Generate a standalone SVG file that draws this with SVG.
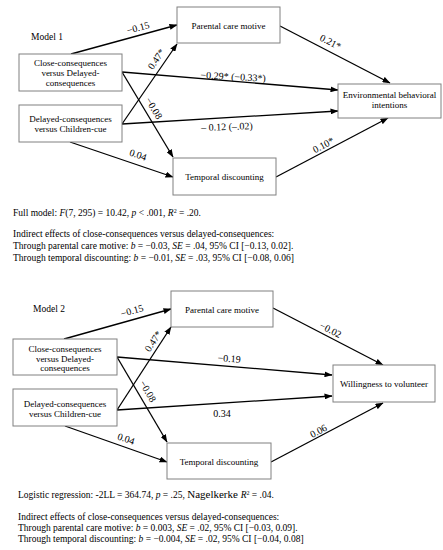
<svg xmlns="http://www.w3.org/2000/svg" width="443" height="550" viewBox="0 0 443 550" font-family="'Liberation Serif','Times New Roman',serif">
<defs>
<marker id="ah" markerWidth="8" markerHeight="6" refX="7.5" refY="3" orient="auto" markerUnits="userSpaceOnUse">
<path d="M0,0 L8,3 L0,6 z" fill="#000"/>
</marker>
<style>
.box{fill:#fff;stroke:#808080;stroke-width:1}
.t{font-family:"Liberation Serif","Times New Roman",serif;font-size:9px;fill:#000}
.n{font-family:"Liberation Serif","Times New Roman",serif;font-size:9.5px;fill:#000}
.c{text-anchor:middle}
.lb{font-family:"Liberation Serif","Times New Roman",serif;font-size:10px;fill:#000;text-anchor:middle}
.ln{stroke:#000;stroke-width:1.3;fill:none;marker-end:url(#ah)}
</style>
</defs>
<rect width="443" height="550" fill="#fff"/>

<!-- Model 1 -->
<text class="n" x="31" y="40">Model 1</text>
<g id="connectors1">
<line class="ln" x1="71" y1="54" x2="177" y2="25"/>
<line class="ln" x1="122" y1="72" x2="173" y2="157"/>
<line class="ln" x1="122" y1="72" x2="338" y2="90"/>
<line class="ln" x1="122" y1="124" x2="177" y2="44"/>
<line class="ln" x1="122" y1="124" x2="338" y2="111"/>
<line class="ln" x1="70" y1="142" x2="173" y2="177"/>
<line class="ln" x1="280" y1="26" x2="390" y2="83"/>
<line class="ln" x1="276" y1="177" x2="388" y2="118"/>
<text class="lb" transform="translate(139,31) rotate(-15)">−0.15</text>
<text class="lb" transform="translate(159,61) rotate(-55.5)">0.47*</text>
<text class="lb" transform="translate(151,110) rotate(59)">−0.08</text>
<text class="lb" transform="translate(233,80) rotate(3)">−0.29* (−0.33*)</text>
<text class="lb" transform="translate(227,130) rotate(-2)">– 0.12 (–.02)</text>
<text class="lb" transform="translate(137,158) rotate(19)">0.04</text>
<text class="lb" transform="translate(329,45) rotate(27)">0.21*</text>
<text class="lb" transform="translate(325,148) rotate(-28)">0.10*</text>
</g>
<g id="close1"><rect class="box" x="19" y="54" width="103" height="37"/>
<text class="t c" x="70.5" y="66">Close-consequences</text>
<text class="t c" x="70.5" y="76">versus Delayed-</text>
<text class="t c" x="70.5" y="86">consequences</text></g>
<g id="delayed1"><rect class="box" x="19" y="105" width="103" height="37"/>
<text class="t c" x="70.5" y="122">Delayed-consequences</text>
<text class="t c" x="70.5" y="132">versus Children-cue</text></g>
<g id="parental1"><rect class="box" x="177" y="7" width="103" height="36"/>
<text class="t c" x="228.5" y="29">Parental care motive</text></g>
<g id="env1"><rect class="box" x="338" y="84" width="103" height="34"/>
<text class="t c" x="389.5" y="98">Environmental behavioral</text>
<text class="t c" x="389.5" y="108">intentions</text></g>
<g id="temporal1"><rect class="box" x="173" y="158" width="103" height="37"/>
<text class="t c" x="224.5" y="180">Temporal discounting</text></g>

<text class="n" x="13" y="216">Full model: <tspan font-style="italic">F</tspan>(7, 295) = 10.42, <tspan font-style="italic">p</tspan> &lt; .001, <tspan font-style="italic">R</tspan><tspan font-size="6" dy="-3">2</tspan><tspan dy="3"> = .20.</tspan></text>
<text class="n" x="13" y="237">Indirect effects of close-consequences versus delayed-consequences:</text>
<text class="n" x="13" y="249">Through parental care motive: <tspan font-style="italic">b</tspan> = −0.03, <tspan font-style="italic">SE</tspan> = .04, 95% CI [−0.13, 0.02].</text>
<text class="n" x="13" y="261">Through temporal discounting: <tspan font-style="italic">b</tspan> = −0.01, <tspan font-style="italic">SE</tspan> = .03, 95% CI [−0.08, 0.06]</text>

<!-- Model 2 -->
<text class="n" x="33" y="312">Model 2</text>
<g id="connectors2">
<line class="ln" x1="64" y1="339" x2="171" y2="309"/>
<line class="ln" x1="117" y1="357" x2="167" y2="442"/>
<line class="ln" x1="117" y1="357" x2="332" y2="375"/>
<line class="ln" x1="117" y1="410" x2="171" y2="327"/>
<line class="ln" x1="117" y1="410" x2="332" y2="396"/>
<line class="ln" x1="65" y1="426" x2="167" y2="462"/>
<line class="ln" x1="273" y1="308" x2="383" y2="365"/>
<line class="ln" x1="271" y1="462" x2="383" y2="403"/>
<text class="lb" transform="translate(133,314) rotate(-15.7)">−0.15</text>
<text class="lb" transform="translate(156,343) rotate(-57)">0.47*</text>
<text class="lb" transform="translate(145,393) rotate(59.5)">−0.08</text>
<text class="lb" transform="translate(229,362) rotate(4)">−0.19</text>
<text class="lb" x="222" y="417">0.34</text>
<text class="lb" transform="translate(125,442) rotate(19)">0.04</text>
<text class="lb" transform="translate(329,333) rotate(27)">−0.02</text>
<text class="lb" transform="translate(320,434) rotate(-28)">0.06</text>
</g>
<g id="close2"><rect class="box" x="13" y="339" width="104" height="36"/>
<text class="t c" x="65" y="352">Close-consequences</text>
<text class="t c" x="65" y="361.5">versus Delayed-</text>
<text class="t c" x="65" y="371">consequences</text></g>
<g id="delayed2"><rect class="box" x="13" y="389" width="104" height="37"/>
<text class="t c" x="65" y="407">Delayed-consequences</text>
<text class="t c" x="65" y="417">versus Children-cue</text></g>
<g id="parental2"><rect class="box" x="171" y="291" width="102" height="36"/>
<text class="t c" x="222" y="313">Parental care motive</text></g>
<g id="will2"><rect class="box" x="333" y="365" width="102" height="37"/>
<text class="t c" x="384" y="387">Willingness to volunteer</text></g>
<g id="temporal2"><rect class="box" x="167" y="443" width="104" height="36"/>
<text class="t c" x="219" y="465">Temporal discounting</text></g>

<text class="n" x="18" y="498">Logistic regression: -2LL = 364.74, <tspan font-style="italic">p</tspan> = .25, <tspan font-size="11">Nagelkerke </tspan><tspan font-style="italic">R</tspan><tspan font-size="6" dy="-3">2</tspan><tspan dy="3"> = .04.</tspan></text>
<text class="n" x="18" y="520">Indirect effects of close-consequences versus delayed-consequences:</text>
<text class="n" x="18" y="531">Through parental care motive: <tspan font-style="italic">b</tspan> = 0.003, <tspan font-style="italic">SE</tspan> = .02, 95% CI [−0.03, 0.09].</text>
<text class="n" x="18" y="542">Through temporal discounting: <tspan font-style="italic">b</tspan> = −0.004, <tspan font-style="italic">SE</tspan> = .02, 95% CI [−0.04, 0.08]</text>
</svg>
